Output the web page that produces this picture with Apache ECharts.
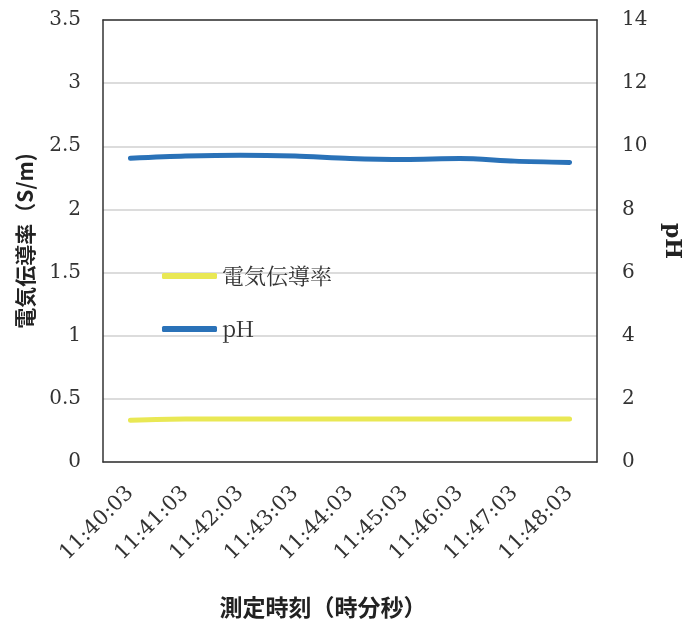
<!DOCTYPE html>
<html>
<head>
<meta charset="utf-8">
<script src="https://cdn.jsdelivr.net/npm/echarts@6/dist/echarts.min.js"></script>
<style>
  html, body { margin: 0; padding: 0; background: #fff; }
  #chart { width: 686px; height: 626px; }
</style>
</head>
<body>
<div id="chart"></div>
<script>
// Measurement times (hh:mm:ss)
var times = ['11:40:03', '11:41:03', '11:42:03', '11:43:03', '11:44:03',
             '11:45:03', '11:46:03', '11:47:03', '11:48:03'];
// Electrical conductivity, S/m (left axis)
var conductivity = [0.33, 0.34, 0.34, 0.34, 0.34, 0.34, 0.34, 0.34, 0.34];
// pH (right axis)
var ph = [9.62, 9.69, 9.72, 9.69, 9.61, 9.58, 9.61, 9.53, 9.49];

var serif = '"DejaVu Serif", "Liberation Serif", serif';
var cjkBold = '"Noto Sans CJK JP", sans-serif';

var chart = echarts.init(document.getElementById('chart'), null, { renderer: 'canvas' });
chart.setOption({
  animation: false,
  backgroundColor: '#ffffff',
  grid: {
    left: 103, right: 89, top: 20, bottom: 164,
    containLabel: false,
    outerBoundsMode: 'none'
  },
  legend: {
    orient: 'vertical',
    left: 157, top: 259,
    itemWidth: 55, itemHeight: 6, itemGap: 29,
    icon: 'roundRect',
    textStyle: { fontFamily: '"Noto Serif CJK JP", "Noto Sans CJK JP", serif', fontSize: 22, color: '#333', lineHeight: 24 },
    data: ['電気伝導率', 'pH']
  },
  xAxis: [
    {
      type: 'category',
      data: times,
      boundaryGap: true,
      name: '測定時刻（時分秒）',
      nameLocation: 'middle',
      nameGap: 134,
      nameTextStyle: { fontFamily: cjkBold, fontWeight: 'bold', fontSize: 23, color: '#222', padding: [0, 54, 0, 0] },
      axisLine: { show: true, lineStyle: { color: '#333', width: 1.5 } },
      axisTick: { show: false },
      axisLabel: { rotate: 45, fontFamily: serif, fontSize: 21, color: '#333', margin: 28, padding: [20, 0, 0, 0] }
    },
    {
      // top edge of the plot frame
      type: 'category',
      data: times,
      position: 'top',
      axisLine: { show: true, onZero: false, lineStyle: { color: '#333', width: 1.5 } },
      axisTick: { show: false },
      axisLabel: { show: false },
      splitLine: { show: false }
    }
  ],
  yAxis: [
    {
      type: 'value',
      min: 0, max: 3.5, interval: 0.5,
      name: '電気伝導率（S/m)',
      nameLocation: 'middle',
      nameRotate: 90,
      nameGap: 67,
      nameTextStyle: { fontFamily: cjkBold, fontWeight: 'bold', fontSize: 21, color: '#222' },
      axisLine: { show: true, lineStyle: { color: '#333', width: 1.5 } },
      axisTick: { show: false },
      axisLabel: { fontFamily: serif, fontSize: 20, color: '#333', margin: 22 },
      splitLine: { show: true, lineStyle: { color: '#d0d0d0', width: 1.5 } }
    },
    {
      type: 'value',
      min: 0, max: 14, interval: 2,
      name: 'pH',
      nameLocation: 'middle',
      nameRotate: -90,
      nameGap: 64,
      nameTextStyle: { fontFamily: serif, fontWeight: 'bold', fontSize: 22, color: '#222' },
      axisLine: { show: true, lineStyle: { color: '#333', width: 1.5 } },
      axisTick: { show: false },
      axisLabel: { fontFamily: serif, fontSize: 20, color: '#333', margin: 25 },
      splitLine: { show: false }
    }
  ],
  series: [
    {
      name: '電気伝導率',
      type: 'line',
      yAxisIndex: 0,
      data: conductivity,
      smooth: 0.3,
      symbol: 'none',
      color: '#e9e854',
      lineStyle: { width: 5, color: '#e9e854', cap: 'round' }
    },
    {
      name: 'pH',
      type: 'line',
      yAxisIndex: 1,
      data: ph,
      smooth: 0.3,
      symbol: 'none',
      color: '#2a72b8',
      lineStyle: { width: 5, color: '#2a72b8', cap: 'round' }
    }
  ]
});
</script>
</body>
</html>
